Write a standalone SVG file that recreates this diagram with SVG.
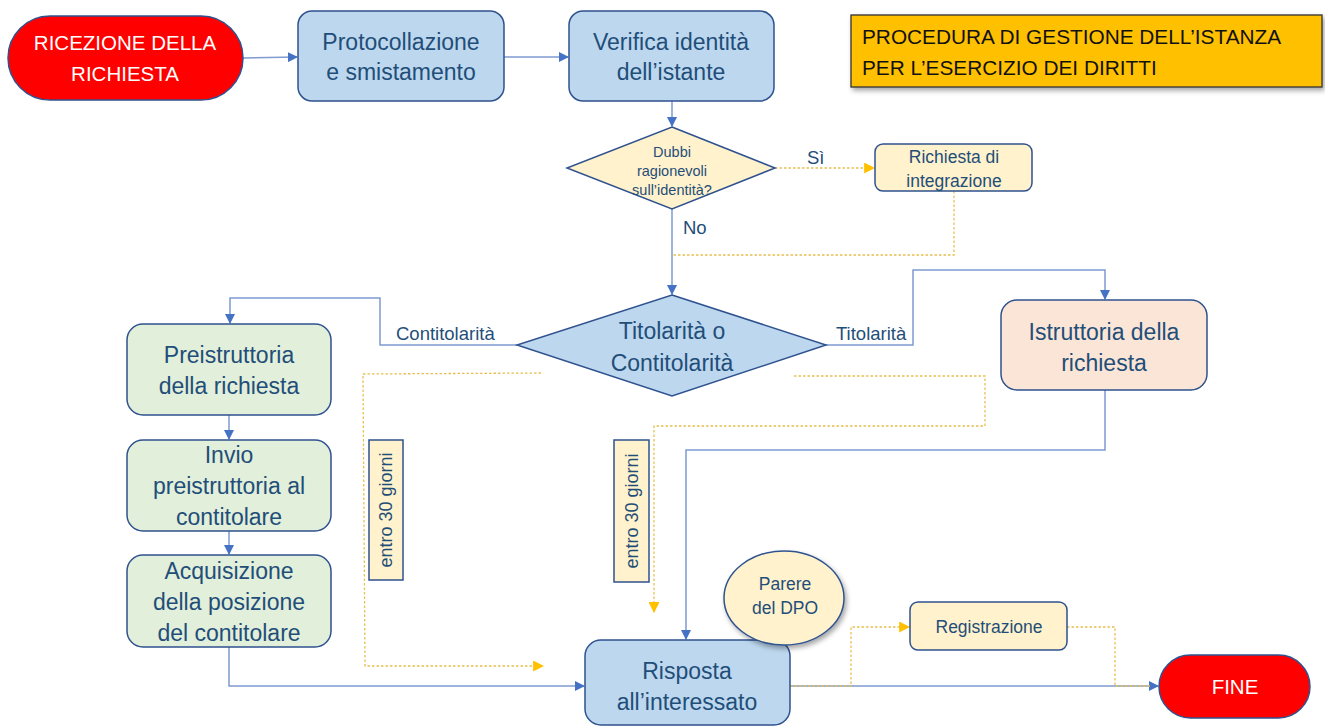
<svg xmlns="http://www.w3.org/2000/svg" width="1325" height="727" viewBox="0 0 1325 727">
<style>
  .t { font-family: "Liberation Sans", Arial, sans-serif; fill: #1F4E79; text-anchor: middle; }
  .big { font-size: 23px; }
  .mid { font-size: 17.5px; }
  .sm { font-size: 14.5px; }
  .lbl { font-family: "Liberation Sans", Arial, sans-serif; fill: #1F4E79; font-size: 18.5px; }
  .white { font-family: "Liberation Sans", Arial, sans-serif; fill: #FFFFFF; text-anchor: middle; font-size: 20.5px; }
  .node { stroke: #2F528F; stroke-width: 1.5; }
  .blue { fill: #BDD7EE; }
  .green { fill: #E2EFDA; }
  .peach { fill: #FBE5D6; }
  .cream { fill: #FFF2CC; }
  .red { fill: #FF0000; }
  .conn { fill: none; stroke: #7F9BD0; stroke-width: 1.5; }
  .dash { fill: none; stroke: #E8BF4F; stroke-width: 1.3; stroke-dasharray: 2.5 2; }
</style>
<defs>
  <marker id="ab" viewBox="0 0 10 10" refX="9" refY="5" markerWidth="10" markerHeight="10" markerUnits="userSpaceOnUse" orient="auto">
    <path d="M0,0 L10,5 L0,10 Z" fill="#4472C4"/>
  </marker>
  <marker id="ao" viewBox="0 0 10 10" refX="9" refY="5" markerWidth="11" markerHeight="11" markerUnits="userSpaceOnUse" orient="auto">
    <path d="M0,0 L10,5 L0,10 Z" fill="#FFC000"/>
  </marker>
  <filter id="sh" x="-20%" y="-20%" width="140%" height="140%">
    <feDropShadow dx="2" dy="3" stdDeviation="2.5" flood-color="#000" flood-opacity="0.35"/>
  </filter>
</defs>
<rect width="1325" height="727" fill="#FFFFFF"/>

<g id="connectors">
  <path class="conn" d="M243,58 L297,57" marker-end="url(#ab)"/>
  <path class="conn" d="M504,57 L568,57" marker-end="url(#ab)"/>
  <path class="conn" d="M672,101 L672,126" marker-end="url(#ab)"/>
  <path class="dash" d="M775,168 L874,168" marker-end="url(#ao)"/>
  <path class="dash" d="M954,191 L954,255 L672,255"/>
  <path class="conn" d="M672,209 L672,294" marker-end="url(#ab)"/>
  <path class="conn" d="M517,345 L380,345 L380,298 L230,298 L230,323" marker-end="url(#ab)"/>
  <path class="conn" d="M826,345 L913,345 L913,270 L1105,270 L1105,299" marker-end="url(#ab)"/>
  <path class="conn" d="M1105,390 L1105,450 L686,450 L686,639" marker-end="url(#ab)"/>
  <path class="conn" d="M229,415 L229,439" marker-end="url(#ab)"/>
  <path class="conn" d="M229,531 L229,554" marker-end="url(#ab)"/>
  <path class="conn" d="M229,647 L229,686 L584,686" marker-end="url(#ab)"/>
  <path class="conn" d="M790,686 L1158,686" marker-end="url(#ab)"/>
  <path class="dash" d="M790,686 L851,686 L851,627 L909,627" marker-end="url(#ao)"/>
  <path class="dash" d="M1067,627 L1115,627 L1115,686 L1150,686"/>
  <path class="dash" d="M541,373 L363,374 L365,666 L543,666" marker-end="url(#ao)"/>
  <path class="dash" d="M794,376 L985,376 L985,426 L654,426 L654,612" marker-end="url(#ao)"/>
</g>

<g id="title">
  <rect x="851" y="15" width="471" height="72" fill="#FFC000" stroke="#333333" stroke-width="1.3" filter="url(#sh)"/>
  <text x="862" y="44" font-family="Liberation Sans, Arial, sans-serif" font-size="20.8" fill="#111">PROCEDURA DI GESTIONE DELL’ISTANZA</text>
  <text x="862" y="75" font-family="Liberation Sans, Arial, sans-serif" font-size="20.8" fill="#111">PER L’ESERCIZIO DEI DIRITTI</text>
</g>

<g id="ricezione">
  <rect class="node red" x="8" y="16" width="235" height="84" rx="42"/>
  <text class="white" x="125" y="50">RICEZIONE DELLA</text>
  <text class="white" x="125" y="81">RICHIESTA</text>
</g>

<g id="protocollazione">
  <rect class="node blue" x="298" y="11" width="206" height="90" rx="14"/>
  <text class="t big" x="401" y="50">Protocollazione</text>
  <text class="t big" x="401" y="80">e smistamento</text>
</g>

<g id="verifica">
  <rect class="node blue" x="569" y="11" width="205" height="90" rx="14"/>
  <text class="t big" x="671" y="50">Verifica identità</text>
  <text class="t big" x="671" y="80">dell’istante</text>
</g>

<g id="dubbi">
  <polygon class="node cream" points="672,127 775,168 672,209 567,168"/>
  <text class="t sm" x="672" y="157">Dubbi</text>
  <text class="t sm" x="672" y="176">ragionevoli</text>
  <text class="t sm" x="672" y="195">sull’identità?</text>
</g>

<text class="lbl" x="807" y="164">Sì</text>
<text class="lbl" x="683" y="234">No</text>

<g id="integrazione">
  <rect class="node cream" x="875" y="144" width="157" height="47" rx="8"/>
  <text class="t mid" x="954" y="163">Richiesta di</text>
  <text class="t mid" x="954" y="187">integrazione</text>
</g>

<g id="titolarita">
  <polygon class="node blue" points="672,295 826,345 672,396 517,345"/>
  <text class="t big" x="672" y="339">Titolarità o</text>
  <text class="t big" x="672" y="371">Contitolarità</text>
</g>

<text class="lbl" x="396" y="340">Contitolarità</text>
<text class="lbl" x="836" y="340">Titolarità</text>

<g id="istruttoria">
  <rect class="node peach" x="1001" y="300" width="206" height="90" rx="16"/>
  <text class="t big" x="1104" y="340">Istruttoria della</text>
  <text class="t big" x="1104" y="371">richiesta</text>
</g>

<g id="preistruttoria">
  <rect class="node green" x="127" y="324" width="204" height="91" rx="16"/>
  <text class="t big" x="229" y="363">Preistruttoria</text>
  <text class="t big" x="229" y="394">della richiesta</text>
</g>

<g id="invio">
  <rect class="node green" x="127" y="440" width="204" height="91" rx="16"/>
  <text class="t big" x="229" y="463">Invio</text>
  <text class="t big" x="229" y="494">preistruttoria al</text>
  <text class="t big" x="229" y="525">contitolare</text>
</g>

<g id="acquisizione">
  <rect class="node green" x="127" y="555" width="204" height="92" rx="16"/>
  <text class="t big" x="229" y="579">Acquisizione</text>
  <text class="t big" x="229" y="610">della posizione</text>
  <text class="t big" x="229" y="641">del contitolare</text>
</g>

<g id="entro1">
  <rect class="node cream" x="369" y="440" width="34" height="140"/>
  <text class="t" font-size="18" transform="translate(392,510) rotate(-90)">entro 30 giorni</text>
</g>

<g id="entro2">
  <rect class="node cream" x="614" y="440" width="35" height="142"/>
  <text class="t" font-size="18" transform="translate(638,511) rotate(-90)">entro 30 giorni</text>
</g>

<g id="risposta">
  <rect class="node blue" x="585" y="640" width="205" height="85" rx="16"/>
  <text class="t big" x="687" y="679">Risposta</text>
  <text class="t big" x="687" y="710">all’interessato</text>
</g>

<g id="parere">
  <ellipse class="node cream" cx="784" cy="598" rx="60" ry="47" filter="url(#sh)"/>
  <text class="t mid" x="785" y="590">Parere</text>
  <text class="t mid" x="785" y="614">del DPO</text>
</g>

<g id="registrazione">
  <rect class="node cream" x="910" y="602" width="157" height="48" rx="8"/>
  <text class="t mid" x="989" y="633">Registrazione</text>
</g>

<g id="fine">
  <rect class="node red" x="1159" y="655" width="151" height="63" rx="31.5"/>
  <text class="white" x="1235" y="694">FINE</text>
</g>
</svg>
